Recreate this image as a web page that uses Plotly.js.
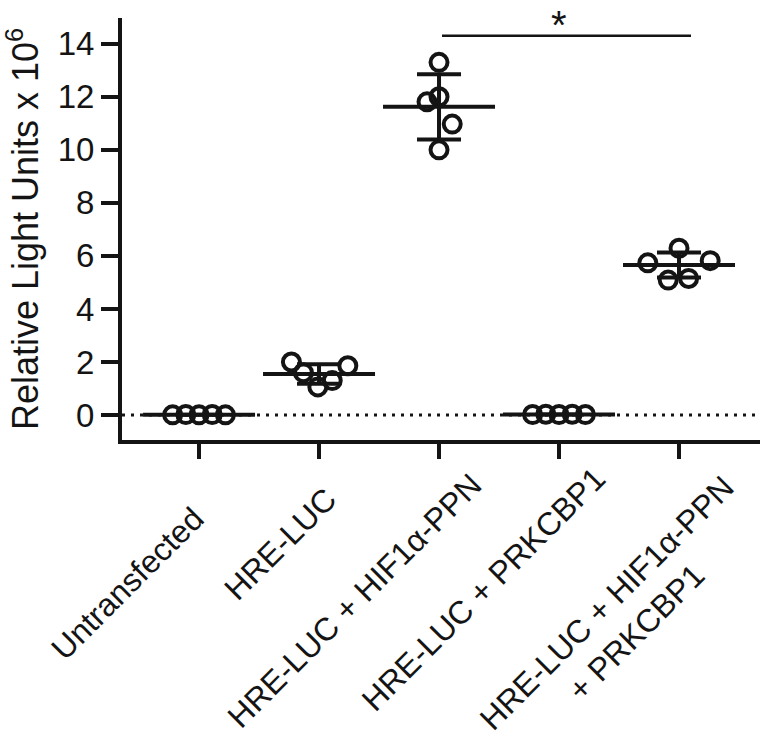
<!DOCTYPE html>
<html>
<head>
<meta charset="utf-8">
<script src="https://cdn.plot.ly/plotly-3.0.1.min.js"></script>
<style>html,body{margin:0;padding:0;background:#fff;}#chart{width:760px;height:738px;}</style>
</head>
<body>
<div id="chart"></div>
<script>
// ---- data ----
const categories = ["Untransfected", "HRE-LUC", "HRE-LUC + HIF1α-PPN", "HRE-LUC + PRKCBP1", "HRE-LUC + HIF1α-PPN + PRKCBP1"];
const tickLabels = ["Untransfected", "HRE-LUC", "HRE-LUC + HIF1α-PPN", "HRE-LUC + PRKCBP1", "HRE-LUC + HIF1α-PPN<br>+ PRKCBP1"];
const valsUntransfected = [0.01, 0.02, 0.01, 0.02, 0.01];
const valsHRE = [2.0, 1.86, 1.6, 1.3, 1.06];
const valsHRE_HIF = [13.3, 12.0, 11.81, 10.97, 10.0];
const valsHRE_PRK = [0.02, 0.03, 0.02, 0.03, 0.02];
const valsHRE_HIF_PRK = [6.29, 5.74, 5.82, 5.09, 5.15];
const groupMeans = [0.01, 1.55, 11.62, 0.02, 5.66];
const groupSD = [0, 0.37, 1.23, 0, 0.47];
const yTickVals = [0, 2, 4, 6, 8, 10, 12, 14];
const sigPair = [2, 4];
const sigLabel = "*";

// ---- horizontal placement of the dots within each column (category units) ----
const dotOffsets = [
  [-0.22, -0.11, 0, 0.11, 0.22],
  [-0.23, 0.24, -0.13, 0.11, -0.01],
  [0, 0, -0.1, 0.11, 0],
  [-0.22, -0.11, 0, 0.11, 0.22],
  [0, -0.26, 0.26, -0.09, 0.08]
];
// label anchor shifts (px) relative to tick and axis
const labelShift = [[14, -58], [27, -38], [52, -24], [56, -17], [94, -26]];

const groups = [valsUntransfected, valsHRE, valsHRE_HIF, valsHRE_PRK, valsHRE_HIF_PRK];
const ink = "#141414";
const FONT = "Liberation Sans, Arial, Helvetica, sans-serif";

const dotX = [], dotY = [];
groups.forEach((g, i) => g.forEach((v, j) => { dotX.push(i + dotOffsets[i][j]); dotY.push(v); }));
const idx = categories.map((c, i) => i);

const traces = [
  {
    type: "scatter", mode: "markers", x: dotX, y: dotY, cliponaxis: false,
    marker: {symbol: "circle-open", size: 17, color: ink, line: {width: 4, color: ink}},
    hoverinfo: "skip", showlegend: false
  },
  {
    type: "scatter", mode: "markers", x: idx, y: groupMeans,
    marker: {size: 1, opacity: 0, color: ink},
    error_y: {type: "data", array: groupSD, visible: true, thickness: 4, width: 22, color: ink},
    hoverinfo: "skip", showlegend: false
  },
  {
    type: "scatter", mode: "markers", x: idx, y: groupMeans, cliponaxis: false,
    marker: {symbol: "line-ew", size: 80, color: ink, line: {width: 4, color: ink}},
    hoverinfo: "skip", showlegend: false
  }
];

const annotations = tickLabels.map((t, i) => ({
  text: t, x: i, xref: "x", y: 0, yref: "paper",
  xanchor: "right", yanchor: "top", textangle: -45, align: "center",
  xshift: labelShift[i][0], yshift: labelShift[i][1],
  showarrow: false, font: {family: FONT, size: 32, color: ink}
}));
annotations.push({
  text: sigLabel, x: (sigPair[0] + sigPair[1]) / 2, xref: "x", y: 1, yref: "paper",
  xanchor: "center", yanchor: "top", yshift: 17, showarrow: false,
  font: {family: FONT, size: 40, color: ink}
});

const layout = {
  width: 760, height: 738,
  margin: {l: 122, r: 0, t: 18, b: 298, pad: 0},
  paper_bgcolor: "#fff", plot_bgcolor: "#fff",
  showlegend: false, hovermode: false,
  font: {family: FONT, color: ink},
  xaxis: {
    range: [-0.642, 4.675], tickvals: idx, showticklabels: false,
    ticks: "outside", ticklen: 15, tickwidth: 4, tickcolor: ink,
    showline: true, linewidth: 4, linecolor: ink,
    showgrid: false, zeroline: false, fixedrange: true
  },
  yaxis: {
    range: [-0.94, 14.97], tickvals: yTickVals,
    ticks: "outside", ticklen: 17, tickwidth: 4, tickcolor: ink,
    tickfont: {family: FONT, size: 33, color: ink},
    showline: true, linewidth: 4, linecolor: ink,
    showgrid: false, zeroline: false, fixedrange: true,
    title: {text: "Relative Light Units x 10<sup>6</sup>", font: {family: FONT, size: 36, color: ink}, standoff: 20}
  },
  shapes: [
    {type: "line", xref: "paper", x0: 0, x1: 1, yref: "y", y0: 0, y1: 0, layer: "below",
     line: {color: ink, width: 3, dash: "3px,6px"}},
    {type: "line", xref: "x", x0: sigPair[0] + 0.025, x1: sigPair[1] + 0.1, yref: "y", y0: 14.3, y1: 14.3,
     line: {color: ink, width: 2.5}}
  ],
  annotations: annotations
};

Plotly.newPlot("chart", traces, layout, {displayModeBar: false, staticPlot: true});
</script>
</body>
</html>
